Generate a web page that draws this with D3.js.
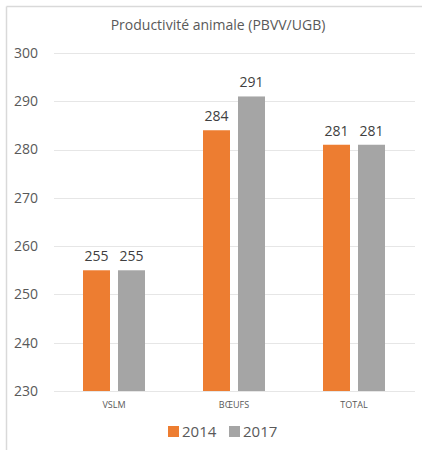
<!DOCTYPE html>
<html><head><meta charset="utf-8">
<script src="https://cdn.jsdelivr.net/npm/d3@7"></script>
<style>body{margin:0;background:#fff}svg{display:block}text{font-family:"Open Sans","Noto Sans",sans-serif}</style>
</head><body><svg id="c" width="422" height="450"></svg>
<script>
const categories = ["VSLM", "BŒUFS", "TOTAL"];
const seriesNames = ["2014", "2017"];
const values2014 = [255, 284, 281];
const values2017 = [255, 291, 281];
const yTicks = [230, 240, 250, 260, 270, 280, 290, 300];
const colors = ["#ED7D31", "#A5A5A5"];
const title = "Productivité animale (PBVV/UGB)";

const svg = d3.select("#c");
// frame
svg.append("line").attr("x1",6.5).attr("x2",422).attr("y1",6.5).attr("y2",6.5).attr("stroke","#d9d9d9").attr("stroke-width",1.5);
svg.append("line").attr("x1",6.5).attr("x2",6.5).attr("y1",6.5).attr("y2",450).attr("stroke","#d9d9d9").attr("stroke-width",1.5);

const x0 = d3.scaleBand().domain(categories).range([54, 414]);
const y = d3.scaleLinear().domain([230, 300]).range([391, 53]);

svg.append("text").attr("x",218).attr("y",30).attr("text-anchor","middle")
  .attr("font-size",14).attr("fill","#595959").text(title);

const grid = svg.append("g");
yTicks.forEach(t => {
  grid.append("line").attr("x1",54).attr("x2",415).attr("y1",Math.round(y(t))+0.5).attr("y2",Math.round(y(t))+0.5)
    .attr("stroke","#e6e6e6").attr("stroke-width",1);
  grid.append("text").attr("x",38).attr("y",y(t)).attr("dy","0.35em").attr("text-anchor","end")
    .attr("font-size",14).attr("fill","#595959").text(t);
});

const series = [values2014, values2017];
const barW = 27, gap = 8;
series.forEach((vals, si) => {
  const g = svg.append("g");
  categories.forEach((c, i) => {
    const cx = x0(c) + x0.bandwidth()/2;
    const bx = si === 0 ? cx - gap/2 - barW : cx + gap/2;
    g.append("rect").attr("x", bx).attr("y", y(vals[i])).attr("width", barW)
      .attr("height", y(230) - y(vals[i])).attr("fill", colors[si]);
    g.append("text").attr("x", bx + barW/2).attr("y", y(vals[i]) - 9).attr("text-anchor","middle")
      .attr("font-size",14).attr("fill","#404040").text(vals[i]);
  });
});

categories.forEach(c => {
  svg.append("text").attr("x", x0(c) + x0.bandwidth()/2).attr("y", 408).attr("text-anchor","middle")
    .attr("font-size",9).attr("fill","#595959").text(c);
});

// legend
const legX = [168, 229];
seriesNames.forEach((s, i) => {
  svg.append("rect").attr("x", legX[i]).attr("y", 426).attr("width", 11).attr("height", 11).attr("fill", colors[i]);
  svg.append("text").attr("x", legX[i] + 14).attr("y", 432).attr("dy","0.35em")
    .attr("font-size",15).attr("fill","#595959").text(s);
});
</script></body></html>
